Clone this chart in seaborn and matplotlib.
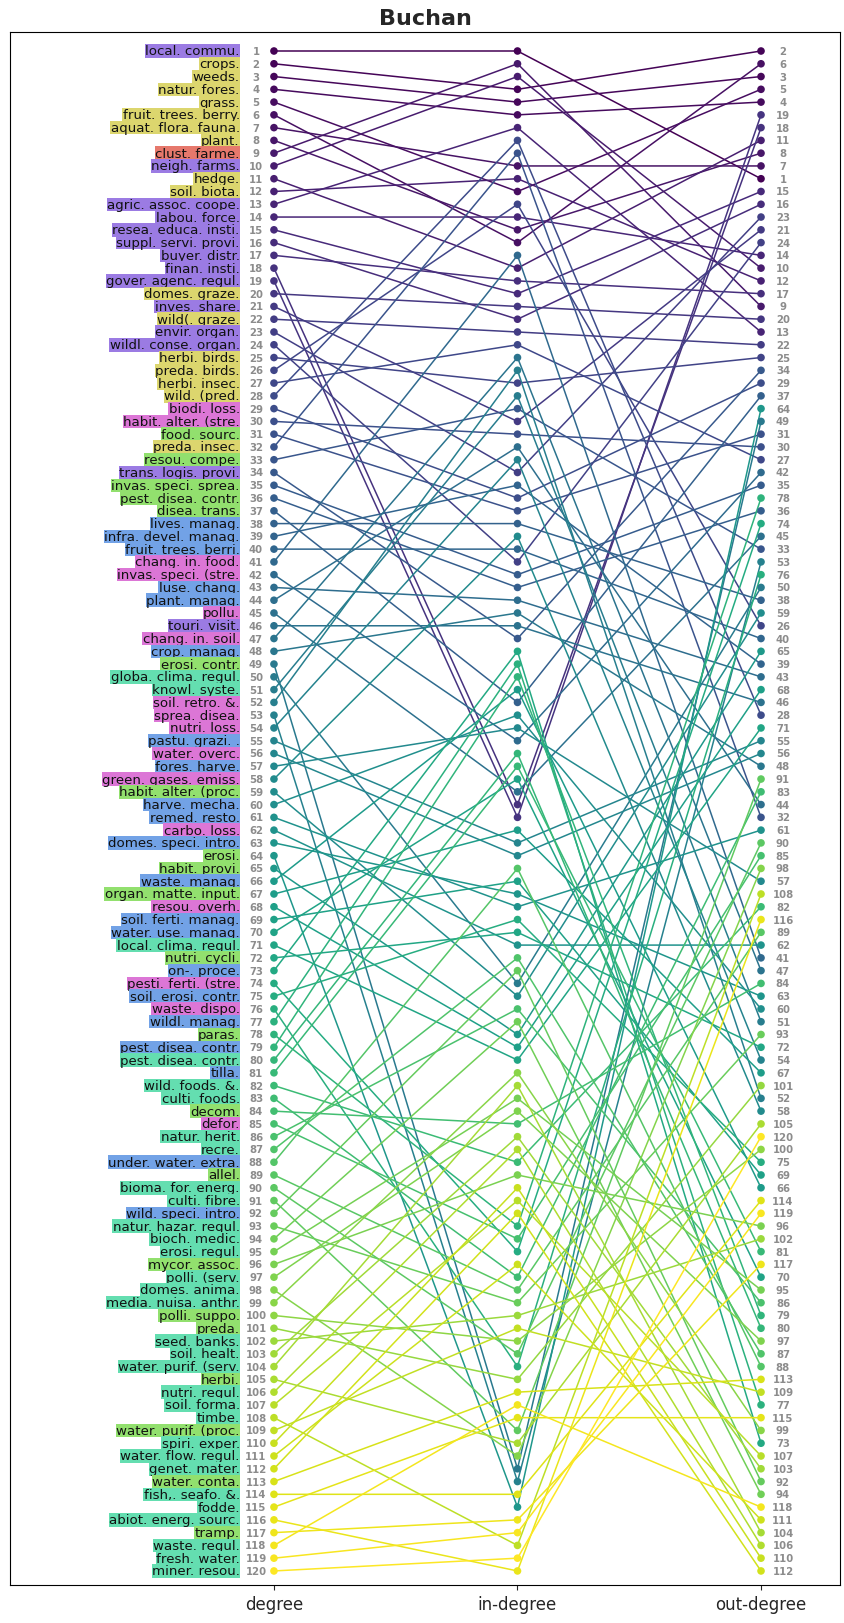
import numpy as np
import pandas as pd
import seaborn as sns
import matplotlib.pyplot as plt

# node labels, ordered by degree rank (1 = highest degree)
labels = [
    'local. commu.', 'crops.', 'weeds.', 'natur. fores.', 'grass.',
    'fruit. trees. berry.', 'aquat. flora. fauna.', 'plant.', 'clust. farme.', 'neigh. farms.',
    'hedge.', 'soil. biota.', 'agric. assoc. coope.', 'labou. force.', 'resea. educa. insti.',
    'suppl. servi. provi.', 'buyer. distr.', 'finan. insti.', 'gover. agenc. regul.', 'domes. graze.',
    'inves. share.', 'wild(. graze.', 'envir. organ.', 'wildl. conse. organ.', 'herbi. birds.',
    'preda. birds.', 'herbi. insec.', 'wild. (pred.', 'biodi. loss.', 'habit. alter. (stre.',
    'food. sourc.', 'preda. insec.', 'resou. compe.', 'trans. logis. provi.', 'invas. speci. sprea.',
    'pest. disea. contr.', 'disea. trans.', 'lives. manag.', 'infra. devel. manag.', 'fruit. trees. berri.',
    'chang. in. food.', 'invas. speci. (stre.', 'luse. chang.', 'plant. manag.', 'pollu.',
    'touri. visit.', 'chang. in. soil.', 'crop. manag.', 'erosi. contr.', 'globa. clima. regul.',
    'knowl. syste.', 'soil. retro. &.', 'sprea. disea.', 'nutri. loss.', 'pastu. grazi. .',
    'water. overc.', 'fores. harve.', 'green. gases. emiss.', 'habit. alter. (proc.', 'harve. mecha.',
    'remed. resto.', 'carbo. loss.', 'domes. speci. intro.', 'erosi.', 'habit. provi.',
    'waste. manag.', 'organ. matte. input.', 'resou. overh.', 'soil. ferti. manag.', 'water. use. manag.',
    'local. clima. regul.', 'nutri. cycli.', 'on-. proce.', 'pesti. ferti. (stre.', 'soil. erosi. contr.',
    'waste. dispo.', 'wildl. manag.', 'paras.', 'pest. disea. contr.', 'pest. disea. contr.',
    'tilla.', 'wild. foods. &.', 'culti. foods.', 'decom.', 'defor.',
    'natur. herit.', 'recre.', 'under. water. extra.', 'allel.', 'bioma. for. energ.',
    'culti. fibre.', 'wild. speci. intro.', 'natur. hazar. regul.', 'bioch. medic.', 'erosi. regul.',
    'mycor. assoc.', 'polli. (serv.', 'domes. anima.', 'media. nuisa. anthr.', 'polli. suppo.',
    'preda.', 'seed. banks.', 'soil. healt.', 'water. purif. (serv.', 'herbi.',
    'nutri. regul.', 'soil. forma.', 'timbe.', 'water. purif. (proc.', 'spiri. exper.',
    'water. flow. regul.', 'genet. mater.', 'water. conta.', 'fish,. seafo. &.', 'fodde.',
    'abiot. energ. sourc.', 'tramp.', 'waste. regul.', 'fresh. water.', 'miner. resou.',
]

# category of each node (label background)
groups = list(
    'PYYYYYYYRP'
    'YYPPPPPPPY'
    'PYPPYYYYKK'
    'GYGPGGGBBB'
    'KKBBKPKBGT'
    'TKKKBKBKGB'
    'BKBGGBGKBB'
    'TGBKBKBGBT'
    'BTTGKTTBGT'
    'TBTTTGTTTG'
    'GTTTGTTTGT'
    'TTGTTTGTTT'
)

group_colors = {
    'P': '#9b7be3', 'Y': '#dcd66e', 'R': '#e6786c', 'K': '#dc76d6',
    'G': '#92e06e', 'B': '#72a2e6', 'T': '#64deb0',
}

# degree rank of the node sitting at each in-degree / out-degree position
in_order = [
    1, 9, 10, 2, 3, 4, 13, 28, 32, 7,
    12, 5, 26, 14, 8, 6, 41, 11, 17, 15,
    20, 16, 22, 27, 47, 52, 25, 51, 33, 21,
    30, 44, 54, 23, 39, 29, 31, 38, 58, 40,
    24, 35, 36, 43, 48, 46, 34, 73, 77, 79,
    66, 37, 60, 57, 42, 80, 81, 70, 45, 18,
    19, 67, 55, 56, 88, 69, 63, 61, 75, 72,
    62, 87, 92, 50, 59, 86, 94, 65, 68, 71,
    99, 104, 95, 97, 84, 103, 106, 82, 96, 110,
    107, 112, 78, 85, 74, 111, 83, 89, 93, 102,
    109, 100, 90, 76, 101, 113, 118, 115, 91, 105,
    98, 49, 53, 114, 64, 117, 119, 108, 120, 116,
]
out_order = [
    2, 6, 3, 5, 4, 19, 18, 11, 8, 7,
    1, 15, 16, 23, 21, 24, 14, 10, 12, 17,
    9, 20, 13, 22, 25, 34, 29, 37, 64, 49,
    31, 30, 27, 42, 35, 78, 36, 74, 45, 33,
    53, 76, 50, 38, 59, 26, 40, 65, 39, 43,
    68, 46, 28, 71, 55, 56, 48, 91, 83, 44,
    32, 61, 90, 85, 98, 57, 108, 82, 116, 89,
    62, 41, 47, 84, 63, 60, 51, 93, 72, 54,
    67, 101, 52, 58, 105, 120, 100, 75, 69, 66,
    114, 119, 96, 102, 81, 117, 70, 95, 86, 79,
    80, 97, 87, 88, 113, 109, 77, 115, 99, 73,
    107, 103, 92, 94, 118, 111, 104, 106, 110, 112,
]
metrics = ['degree', 'in-degree', 'out-degree']

n = len(labels)
deg_rank = np.arange(1, n + 1)
in_rank = np.empty(n, dtype=int)
in_rank[np.array(in_order) - 1] = np.arange(1, n + 1)
out_rank = np.empty(n, dtype=int)
out_rank[np.array(out_order) - 1] = np.arange(1, n + 1)

df = pd.DataFrame({
    'node': np.tile(deg_rank, 3),
    'x': np.repeat([0, 1, 2], n),
    'rank': np.concatenate([deg_rank, in_rank, out_rank]),
})

sns.set_style('ticks')
fig = plt.figure(figsize=(8.45, 16.24), dpi=100)
ax = fig.add_axes([0.0118, 0.0234, 0.9822, 0.9563])

sns.lineplot(data=df, x='x', y='rank', hue='node', units='node', estimator=None,
             palette='viridis', sort=False, linewidth=1.1, legend=False, ax=ax)
sns.scatterplot(data=df, x='x', y='rank', hue='node', palette='viridis',
                s=30, linewidth=0, legend=False, ax=ax, zorder=3)

for i, lab in enumerate(labels):
    r = i + 1
    ax.text(-0.14, r, lab, ha='right', va='center', fontsize=9.6, color='#111111',
            bbox=dict(boxstyle='square,pad=0.02', fc=group_colors[groups[i]], ec='none'))
    ax.text(-0.074, r, str(r), ha='center', va='center', fontsize=7.3,
            fontweight='bold', color='#8c8c8c')

for r, node in enumerate(out_order, start=1):
    ax.text(2.09, r, str(node), ha='center', va='center', fontsize=7.3,
            fontweight='bold', color='#8c8c8c')

ax.set_xlim(-1.084, 2.324)
ax.set_ylim(121.1, -0.49)
ax.set_xticks([0, 1, 2])
ax.set_xticklabels(metrics, fontsize=12)
ax.set_yticks([])
ax.set_xlabel('')
ax.set_ylabel('')
for sp in ax.spines.values():
    sp.set_color('black')
ax.set_title('Buchan', fontsize=16, fontweight='bold', pad=6)

fig.savefig('out.png', dpi=100)
